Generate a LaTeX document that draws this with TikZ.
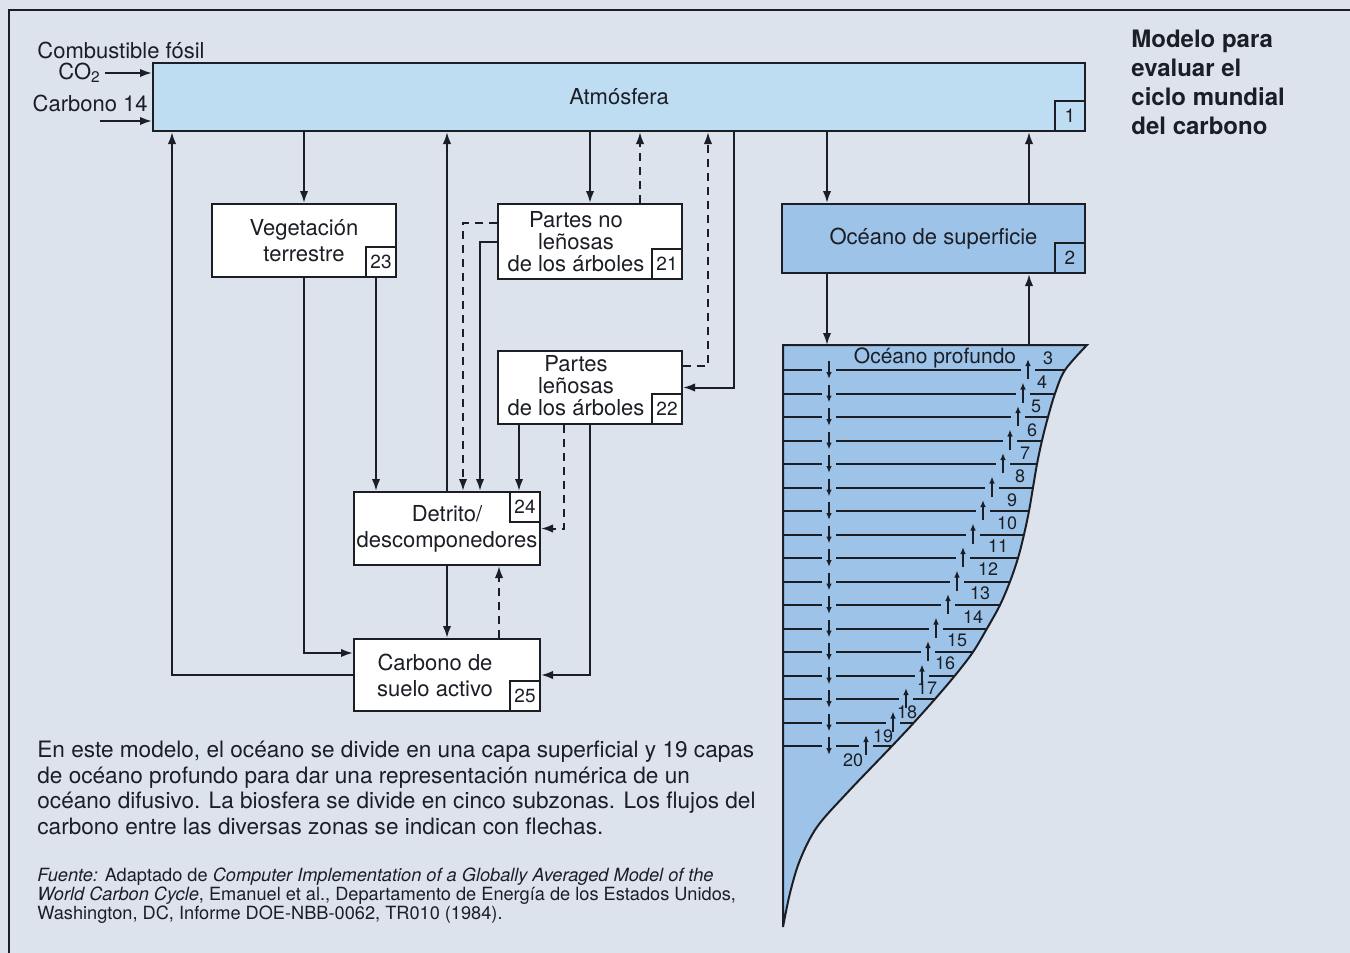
\documentclass[tikz,border=0pt]{standalone}
\usepackage{fontspec}
\setmainfont{TeX Gyre Heros}
\usetikzlibrary{arrows.meta, positioning}
\definecolor{paper}{RGB}{221,227,237}
\definecolor{airblue}{RGB}{190,221,242}
\definecolor{seablue}{RGB}{158,195,233}
\definecolor{ink}{RGB}{28,30,38}

\begin{document}
\begin{tikzpicture}[x=0.5pt, y=-0.5pt,
    box/.style={draw=ink, line width=1pt, fill=white, align=center, inner sep=0pt, text=ink, font=\fontsize{11}{13}\selectfont},
    boxtext/.style={align=center, inner sep=0pt, text=ink, font=\fontsize{11}{11}\selectfont},
    numbox/.style={draw=ink, line width=1pt, fill=white, minimum width=15pt, minimum height=15pt, inner sep=0pt, text=ink, font=\fontsize{9.5}{9.5}\selectfont},
    arrow/.style={-{Latex[length=6pt, width=4.2pt]}, line width=1pt, draw=ink},
    darrow/.style={arrow, dash pattern=on 4pt off 3pt},
    layerline/.style={line width=1pt, draw=ink},
    layerarrow/.style={-{Latex[length=3.5pt, width=2.8pt]}, line width=0.9pt, draw=ink},
    layernum/.style={inner sep=0pt, text=ink, font=\fontsize{9}{9}\selectfont},
    lbl/.style={inner sep=0pt, text=ink, font=\fontsize{11}{13}\selectfont},
    titletext/.style={inner sep=0pt, align=left, text=ink, font=\bfseries\fontsize{12}{14.5}\selectfont},
    capt/.style={inner sep=0pt, align=left, text=ink, font=\fontsize{11.3}{12.75}\selectfont},
    srctext/.style={inner sep=0pt, align=left, text=ink, font=\fontsize{9.1}{9.5}\selectfont}
  ]
\useasboundingbox (0,0) rectangle (1350,953);
\fill[paper] (0,0) rectangle (1350,953);
\draw[ink, line width=1pt] (9,953) -- (9,10) -- (1350,10);

% --- Atmosphere ---
\node[box, fill=airblue, minimum width=466pt, minimum height=34pt] (atm) at (619,97) {Atmósfera};
\node[numbox, fill=airblue, anchor=south east] (n1) at (atm.south east) {1};

\node[lbl, anchor=west] (fossil) at (37,50) {Combustible fósil};
\node[lbl, anchor=west] (co2) at (58,73) {CO\textsubscript{2}};
\node[lbl, anchor=east] (c14) at (148,103) {Carbono 14};
\coordinate (c14in) at (100,121);
\draw[arrow] ([xshift=2pt]co2.east) -- (co2.east -| atm.west);
\draw[arrow] (c14in) -- (c14in -| atm.west);

\node[titletext, anchor=north west] (title) at (1131,30) {Modelo para\\evaluar el\\ciclo mundial\\del carbono};

% --- Biosphere ---
\node[box, minimum width=92pt, minimum height=36.5pt] (veg) at (304,240.5) {Vegetación\\terrestre};
\node[numbox, anchor=south east] (n23) at (veg.south east) {23};

\node[box, minimum width=92pt, minimum height=37.5pt] (nolen) at (590,241.5) {};
\node[boxtext] (nolen-txt) at ([xshift=-7pt]nolen.center) {Partes no\\leñosas\\de los árboles};
\node[numbox, anchor=south east] (n21) at (nolen.south east) {21};

\node[box, minimum width=92pt, minimum height=36.5pt] (len) at (590,387.5) {};
\node[boxtext] (len-txt) at ([xshift=-7pt, yshift=1pt]len.center) {Partes\\leñosas\\de los árboles};
\node[numbox, anchor=south east] (n22) at (len.south east) {22};

\node[box, minimum width=93pt, minimum height=36.5pt] (det) at (447,528.5) {Detrito/\\descomponedores};
\node[numbox, anchor=north east] (n24) at (det.north east) {24};

\node[box, minimum width=93pt, minimum height=36pt] (soil) at (447,675) {};
\node[boxtext, font=\fontsize{11}{13}\selectfont] (soil-txt) at ([xshift=-6pt]soil.center) {Carbono de\\suelo activo};
\node[numbox, anchor=south east] (n25) at (soil.south east) {25};

% --- Ocean ---
\node[box, fill=seablue, minimum width=151.5pt, minimum height=34.5pt] (surf) at (933.5,238.5) {Océano de superficie};
\node[numbox, fill=seablue, anchor=south east] (n2) at (surf.south east) {2};

\fill[seablue] (783,345) -- (1087,345) -- plot[smooth, tension=0.55] coordinates {(1087,345) (1065,370) (1055,393.5) (1048,417) (1042,440.5) (1037,464) (1033,487.5) (1029,511) (1024,534.5) (1018,558) (1010,581.5) (1000,605) (987,628.5) (973,652) (955,675.5) (935,699) (914,722.5) (892,746) (847,793) (817,827) (800,860) (790,893) (783,927)} -- cycle;
\foreach \y/\ax/\ex in {370/1028/1065, 393.5/1023/1055, 417/1018/1048, 440.5/1010/1042, 464/1003/1037, 487.5/992/1033, 511/983/1029, 534.5/973/1024, 558/963/1018, 581.5/957/1010, 605/948/1000, 628.5/936/987, 652/928/973, 675.5/922/955, 699/906/935, 722.5/893/914, 746/866/892} {
  \draw[layerline] (783,\y) -- (822,\y) (836,\y) -- (\ax-7,\y) (\ax+7,\y) -- (\ex,\y);
  \draw[layerarrow] (829,\y-9) -- (829,\y+9);
  \draw[layerarrow] (\ax,\y+9) -- (\ax,\y-11);
}
\draw[ink, line width=1pt] (783,345) -- (1087,345) -- plot[smooth, tension=0.55] coordinates {(1087,345) (1065,370) (1055,393.5) (1048,417) (1042,440.5) (1037,464) (1033,487.5) (1029,511) (1024,534.5) (1018,558) (1010,581.5) (1000,605) (987,628.5) (973,652) (955,675.5) (935,699) (914,722.5) (892,746) (847,793) (817,827) (800,860) (790,893) (783,927)} -- cycle;
\coordinate (deeptop) at (783,345);
\node[lbl, font=\fontsize{10.5}{12}\selectfont] (deep) at (935,358) {Océano profundo};
\foreach \n/\x/\y in {3/1048/358, 4/1042/382, 5/1036/406, 6/1032/430, 7/1025/453, 8/1020/476, 9/1012/500, 10/1007/523, 11/998/546, 12/988/569, 13/980/593, 14/973/617, 15/957/640, 16/945/663, 17/927/688, 18/907/712, 19/883/736, 20/853/760} {
  \node[layernum] (num\n) at (\x,\y) {\n};
}

% --- Atmosphere exchanges ---
\draw[arrow] (atm.south -| veg.north) -- (veg.north);
\draw[arrow] (atm.south -| nolen.north) -- (nolen.north);
\coordinate (nolenUp) at ([xshift=-21.5pt]nolen.north east);
\draw[darrow] (nolenUp) -- (nolenUp |- atm.south);
\coordinate (lenUp) at ([xshift=12.5pt, yshift=11pt]len.east);
\draw[darrow] ([yshift=11pt]len.east) -- (lenUp) -- (lenUp |- atm.south);
\coordinate (lenIn) at ([xshift=25.5pt]len.east);
\draw[arrow] (lenIn |- atm.south) -- (lenIn) -- (len.east);
\draw[arrow] (det.north) -- (det.north |- atm.south);
\draw[arrow] (soil.west) -| ([xshift=10pt]atm.south west);

% --- Biosphere flows ---
\coordinate (vegR) at ([xshift=-10.5pt]veg.south east);
\draw[arrow] (vegR) -- (vegR |- det.north);
\draw[arrow] (veg.south) |- ([yshift=11pt]soil.west);
\draw[darrow] ([yshift=9.25pt]nolen.west) -| ([xshift=8pt]det.north);
\draw[arrow] (nolen.west) -| ([xshift=16.5pt]det.north);
\coordinate (lenA) at ([xshift=11pt]len.south west);
\draw[arrow] (lenA) -- (lenA |- det.north);
\draw[darrow] ([xshift=33.5pt]len.south west) |- (det.east);
\draw[arrow] (len.south) |- (soil.east);
\draw[arrow] (det.south) -- (soil.north);
\coordinate (soilUp) at ([xshift=-21pt]soil.north east);
\draw[darrow] (soilUp) -- (soilUp |- det.south);

% --- Ocean exchanges ---
\coordinate (surfIn) at ([xshift=23pt]surf.north west);
\coordinate (surfOut) at ([xshift=-28.5pt]surf.north east);
\draw[arrow] (surfIn |- atm.south) -- (surfIn);
\draw[arrow] (surfOut) -- (surfOut |- atm.south);
\draw[arrow] (surfIn |- surf.south) -- (surfIn |- deeptop);
\draw[arrow] (surfOut |- deeptop) -- (surfOut |- surf.south);

% --- Caption ---
\node[capt, anchor=north west] (caption) at (37,741) {En este modelo, el océano se divide en una capa superficial y 19 capas\\de océano profundo para dar una representación numérica de un\\océano difusivo. La biosfera se divide en cinco subzonas. Los flujos del\\carbono entre las diversas zonas se indican con flechas.};
\node[srctext, anchor=north west] (source) at (37,867) {\textit{Fuente:} Adaptado de \textit{Computer Implementation of a Globally Averaged Model of the}\\\textit{World Carbon Cycle}, Emanuel et al., Departamento de Energía de los Estados Unidos,\\Washington, DC, Informe DOE-NBB-0062, TR010 (1984).};
\end{tikzpicture}
\end{document}
